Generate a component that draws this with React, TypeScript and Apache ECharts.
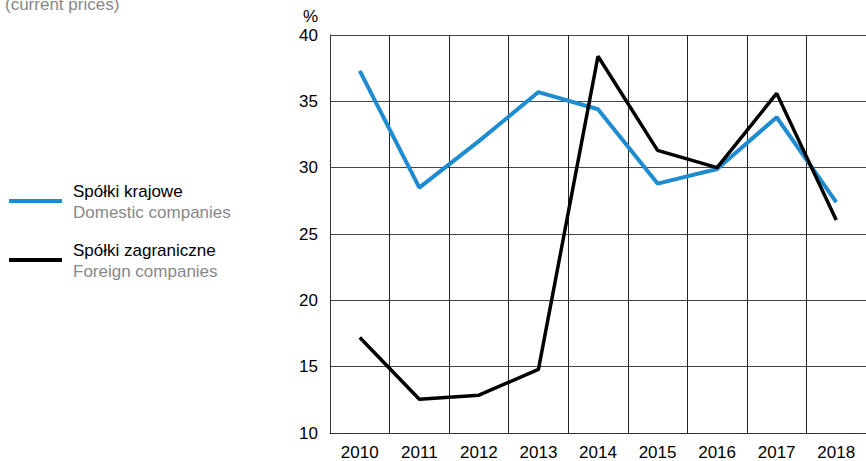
import React, { useEffect, useRef } from "react";
import * as echarts from "echarts";

const years = ["2010", "2011", "2012", "2013", "2014", "2015", "2016", "2017", "2018"];
const domestic = [37.3, 28.5, 32.0, 35.7, 34.4, 28.8, 29.9, 33.8, 27.4];
const foreign = [17.2, 12.55, 12.85, 14.8, 38.4, 31.3, 30.0, 35.6, 26.05];
const yTicks = { min: 10, max: 40, interval: 5 };
const legendItems = [
  { pl: "Spółki krajowe", en: "Domestic companies", color: "#1f8bd0" },
  { pl: "Spółki zagraniczne", en: "Foreign companies", color: "#000000" },
];

const FONT = "'Liberation Sans', Arial, sans-serif";

export default function App() {
  const ref = useRef<HTMLDivElement>(null);
  useEffect(() => {
    if (!ref.current) return;
    const chart = echarts.init(ref.current, undefined, { renderer: "svg" });
    const legendGraphics: any[] = [];
    legendItems.forEach((it, i) => {
      const baseY = 201 + i * 59;
      legendGraphics.push({
        type: "line",
        shape: { x1: 9, y1: baseY, x2: 62, y2: baseY },
        style: { stroke: it.color, lineWidth: 4 },
      });
      legendGraphics.push({
        type: "text",
        x: 73,
        y: baseY - 10,
        style: { text: it.pl, fill: "#000", font: `17px ${FONT}`, verticalAlign: "middle", align: "left" },
      });
      legendGraphics.push({
        type: "text",
        x: 73,
        y: baseY + 11,
        style: { text: it.en, fill: "#888888", font: `17px ${FONT}`, verticalAlign: "middle", align: "left" },
      });
    });
    chart.setOption({
      animation: false,
      backgroundColor: "#fff",
      grid: { left: 330, top: 35, width: 539, height: 400, containLabel: false },
      xAxis: {
        type: "category",
        data: years,
        boundaryGap: true,
        axisLine: { show: true, lineStyle: { color: "#333", width: 1 } },
        axisTick: { show: false },
        axisLabel: { color: "#000", fontSize: 17, fontFamily: FONT, margin: 11 },
        splitLine: { show: true, lineStyle: { color: "#222", width: 1 } },
      },
      yAxis: {
        type: "value",
        min: yTicks.min,
        max: yTicks.max,
        interval: yTicks.interval,
        axisLine: { show: true, lineStyle: { color: "#333", width: 1 } },
        axisTick: { show: false },
        axisLabel: { color: "#000", fontSize: 17, fontFamily: FONT, margin: 12 },
        splitLine: { show: true, lineStyle: { color: "#444", width: 1 } },
      },
      graphic: [
        {
          type: "text",
          x: 318,
          y: 16,
          style: { text: "%", fill: "#000", font: `17px ${FONT}`, align: "right", verticalAlign: "middle" },
        },
        {
          type: "text",
          x: 5,
          y: 13,
          style: { text: "(current prices)", fill: "#888888", font: `17px ${FONT}`, align: "left", verticalAlign: "bottom" },
        },
        ...legendGraphics,
      ],
      series: [
        {
          name: "Domestic companies",
          type: "line",
          data: domestic,
          symbol: "none",
          lineStyle: { color: legendItems[0].color, width: 4 },
          z: 3,
        },
        {
          name: "Foreign companies",
          type: "line",
          data: foreign,
          symbol: "none",
          lineStyle: { color: "#000", width: 3.5 },
          z: 4,
        },
      ],
    });
    return () => chart.dispose();
  }, []);
  return <div ref={ref} style={{ position: "fixed", left: 0, top: 0, width: 866, height: 461 }} />;
}
